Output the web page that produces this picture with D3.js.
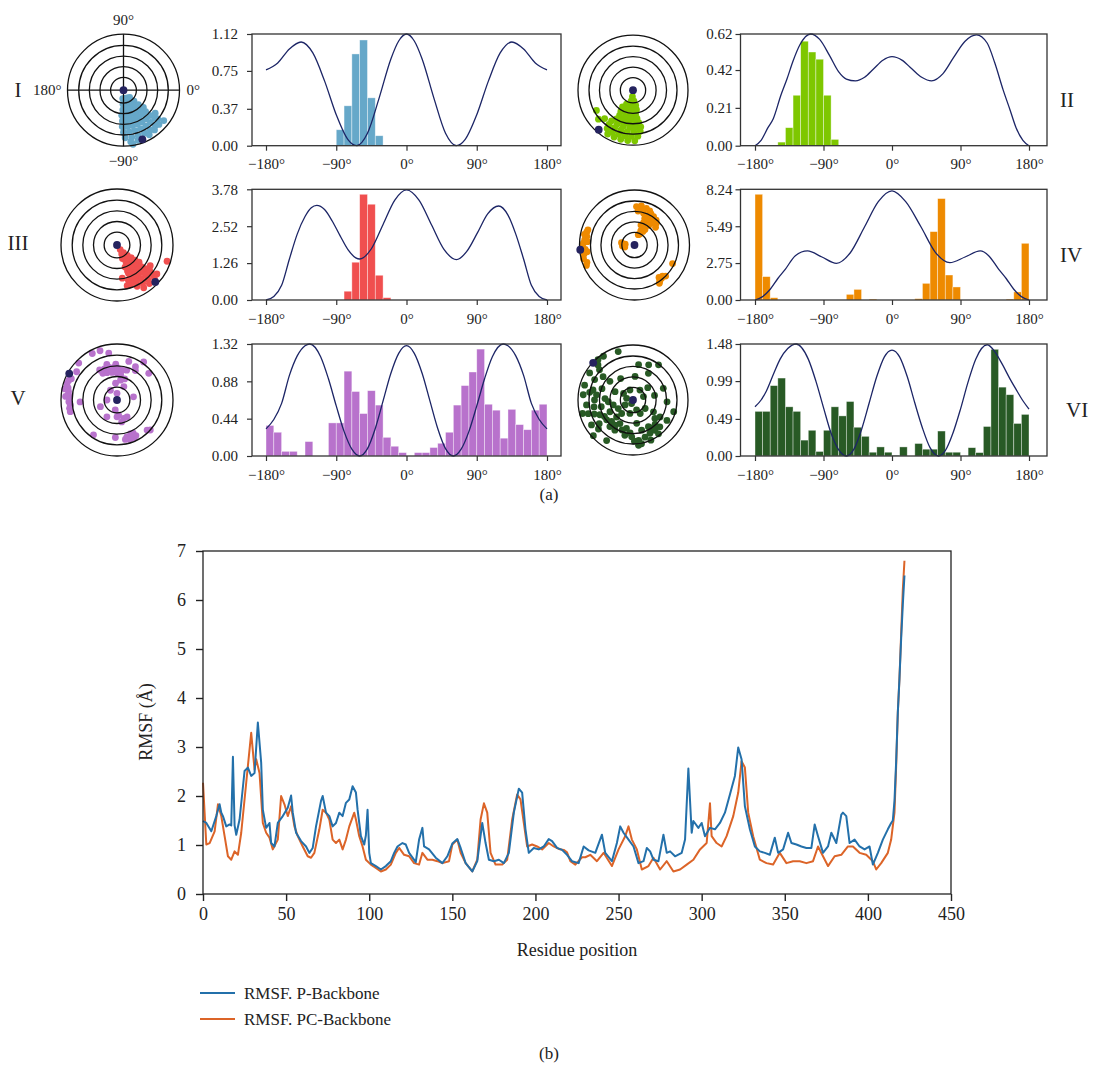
<!DOCTYPE html>
<html>
<head>
<meta charset="utf-8">
<script src="https://cdn.jsdelivr.net/npm/d3@7"></script>
<style>
  body { margin: 0; background: #fff; }
  text { font-family: "Liberation Serif", "DejaVu Serif", serif; fill: #222; }
</style>
</head>
<body>
<svg id="fig" width="1093" height="1068"></svg>
<script>
// ---------- data: panel (a) ----------
const panelNames = ["I", "II", "III", "IV", "V", "VI"];
const panelColors = ["#66a8c9", "#7ec700", "#f04f4f", "#ee8a00", "#b872cc", "#285a25"];
const xTickValues = [-180, -90, 0, 90, 180];
const xTickLabels = ["−180°", "−90°", "0°", "90°", "180°"];
const ringLevels = [0.23, 0.42, 0.61, 0.8, 1.0];

// y tick labels (last one is the axis maximum)
const yTicksI = [0, 0.37, 0.75, 1.12];
const yTicksII = [0, 0.21, 0.42, 0.62];
const yTicksIII = [0, 1.26, 2.52, 3.78];
const yTicksIV = [0, 2.75, 5.49, 8.24];
const yTicksV = [0, 0.44, 0.88, 1.32];
const yTicksVI = [0, 0.49, 0.99, 1.48];

// histogram: first bin start (deg), bin width 10 deg, bar heights
const binWidth = 10;
const histStart = [-90, -150, -80, -180, -180, -180];
const histI = [0.16, 0.40, 0.92, 1.06, 0.48, 0.10];
const histII = [0.02, 0.10, 0.28, 0.58, 0.52, 0.48, 0.28, 0.035];
const histIII = [0.30, 1.29, 3.61, 3.27, 0.845, 0.08];
const histIV = [7.87, 1.74, 0.17, 0, 0, 0, 0, 0, 0, 0, 0, 0, 0.42, 0.79, 0, 0.07, 0, 0,
                0, 0, 0, 0.1, 1.24, 5.09, 7.55, 1.86, 0.97, 0, 0, 0, 0, 0, 0, 0.07, 0.6, 4.22];
const histV = [0.36, 0.28, 0.055, 0.055, 0, 0.17, 0, 0, 0.39, 0.39, 1.00, 0.76, 0.50, 0.77, 0.60, 0.22, 0.115, 0.04,
               0, 0.04, 0.04, 0.10, 0.15, 0.28, 0.60, 0.83, 0.99, 1.26, 0.61, 0.54, 0.21, 0.55, 0.37, 0.31, 0.54, 0.61];
const histVI = [0.59, 0.59, 0.93, 1.03, 0.65, 0.59, 0.21, 0.34, 0.06, 0.34, 0.65, 0.53, 0.72, 0.38, 0.26, 0.05, 0.12, 0.05,
                0.01, 0.12, 0, 0.165, 0.09, 0.09, 0.33, 0.05, 0.05, 0, 0.11, 0.045, 0.39, 1.41, 0.91, 0.81, 0.43, 0.55];

// profile curves [angle deg, value]
const curveI = [[-180,0.76],[-165,0.83],[-150,0.97],[-135,1.04],[-120,0.93],[-105,0.65],[-90,0.31],[-75,0.06],[-64,0],
  [-50,0.125],[-35,0.48],[-20,0.87],[-10,1.05],[0,1.12],[10,1.05],[20,0.87],[35,0.48],[50,0.125],[64,0],[75,0.06],
  [90,0.31],[105,0.65],[120,0.93],[135,1.04],[150,0.97],[165,0.83],[180,0.76]];
const curveII = [[-180,0],[-172,0.03],[-163,0.1],[-156,0.15],[-146,0.28],[-138,0.37],[-130,0.47],[-121,0.56],[-107,0.62],
  [-95,0.59],[-82,0.5],[-70,0.41],[-60,0.37],[-48,0.36],[-36,0.38],[-24,0.427],[-12,0.474],[0,0.494],[13,0.475],
  [26,0.427],[39,0.38],[52,0.36],[67,0.40],[81,0.49],[96,0.58],[111,0.615],[125,0.57],[135,0.46],[146,0.31],
  [155,0.2],[163,0.1],[172,0.03],[180,0]];
const curveIII = [[-180,0],[-170,0.12],[-160,0.5],[-150,1.4],[-140,2.25],[-130,2.85],[-122,3.15],[-115,3.23],[-105,3.09],
  [-95,2.69],[-85,2.19],[-75,1.72],[-65,1.44],[-60,1.40],[-45,1.75],[-30,2.58],[-15,3.41],[0,3.76],[16,3.41],[32,2.57],
  [48,1.73],[64,1.38],[77,1.65],[91,2.3],[104,2.94],[118,3.21],[130,2.9],[140,2.25],[150,1.4],[160,0.5],[170,0.12],[180,0]];
const curveIV = [[-180,0],[-170,0.25],[-160,0.8],[-150,1.6],[-140,2.3],[-127,3.3],[-111,3.65],[-92,3.2],[-73,2.73],
  [-55,3.5],[-36,5.45],[-18,7.32],[0,8.12],[18,7.32],[38,5.45],[57,3.55],[76,2.78],[96,3.2],[116,3.65],[127,3.3],
  [140,2.3],[150,1.6],[160,0.8],[170,0.25],[180,0]];
const curveV = [[-180,0.32],[-170,0.43],[-160,0.62],[-150,0.95],[-140,1.18],[-130,1.3],[-124,1.32],[-110,1.17],[-100,0.91],
  [-90,0.59],[-80,0.29],[-70,0.08],[-60,0],[-50,0.087],[-40,0.325],[-30,0.65],[-20,0.975],[-10,1.21],[0,1.30],[10,1.21],
  [20,0.975],[30,0.65],[40,0.325],[50,0.087],[60,0],[70,0.08],[80,0.29],[90,0.59],[100,0.91],[110,1.17],[124,1.32],
  [130,1.3],[140,1.18],[150,0.95],[160,0.62],[170,0.43],[180,0.32]];
const curveVI = [[-180,0.65],[-172,0.74],[-165,0.86],[-155,1.1],[-147,1.28],[-137,1.42],[-126,1.48],[-110,1.28],[-100,0.99],
  [-90,0.64],[-80,0.30],[-70,0.08],[-60,0],[-50,0.09],[-40,0.35],[-30,0.70],[-20,1.05],[-10,1.31],[0,1.40],[10,1.31],
  [20,1.05],[30,0.70],[40,0.37],[50,0.11],[61,0],[70,0.07],[80,0.30],[90,0.62],[100,0.98],[110,1.28],[125,1.47],
  [135,1.38],[145,1.21],[155,1.02],[163,0.88],[172,0.73],[180,0.62]];

// polar scatter [angle deg, radius (outer ring = 1)]
const polarI = [[-95,0.15],[-80,0.15],[-65,0.15],[-50,0.17],[-92,0.25],[-80,0.25],[-68,0.25],[-56,0.25],[-46,0.27],
  [-92,0.35],[-82,0.35],[-72,0.35],[-62,0.35],[-52,0.35],[-44,0.37],[-94,0.45],[-85,0.45],[-76,0.45],[-67,0.45],
  [-58,0.45],[-49,0.45],[-41,0.47],[-92,0.55],[-84,0.55],[-76,0.55],[-68,0.55],[-60,0.55],[-52,0.55],[-44,0.55],
  [-92,0.65],[-84,0.65],[-76,0.65],[-68,0.65],[-60,0.65],[-52,0.65],[-44,0.65],[-90,0.75],[-82,0.75],[-74,0.75],
  [-66,0.75],[-58,0.75],[-50,0.75],[-42,0.75],[-88,0.85],[-80,0.85],[-72,0.85],[-64,0.85],[-56,0.85],[-48,0.85],
  [-40,0.8],[-82,0.93],[-74,0.93],[-60,0.92],[-52,0.9],[-44,0.88],[-37,0.9],[-80,0.98],[-36,0.7]];
const polarII = [[-95,0.12],[-100,0.2],[-85,0.2],[-115,0.28],[-95,0.28],[-80,0.28],[-122,0.36],[-108,0.36],[-94,0.36],
  [-80,0.36],[-120,0.44],[-108,0.44],[-96,0.44],[-84,0.44],[-118,0.52],[-106,0.52],[-94,0.52],[-82,0.52],[-120,0.6],
  [-110,0.6],[-100,0.6],[-90,0.6],[-80,0.6],[-125,0.68],[-115,0.68],[-105,0.68],[-95,0.68],[-85,0.68],[-78,0.68],
  [-125,0.76],[-116,0.76],[-107,0.76],[-98,0.76],[-89,0.76],[-80,0.76],[-124,0.84],[-116,0.84],[-108,0.84],
  [-100,0.84],[-92,0.84],[-84,0.84],[-120,0.92],[-112,0.92],[-104,0.92],[-96,0.92],[-88,0.92],[-151,0.76],
  [-135,0.73],[-140,0.82]];
const polarIII = [[-55,0.1],[-50,0.18],[-62,0.18],[-45,0.26],[-57,0.26],[-68,0.26],[-42,0.34],[-52,0.34],[-62,0.34],
  [-40,0.42],[-50,0.42],[-60,0.42],[-70,0.42],[-38,0.5],[-48,0.5],[-58,0.5],[-68,0.5],[-42,0.58],[-50,0.58],[-58,0.58],
  [-66,0.58],[-40,0.66],[-48,0.66],[-56,0.66],[-64,0.66],[-72,0.66],[-38,0.74],[-46,0.74],[-54,0.74],[-62,0.74],
  [-70,0.74],[-40,0.82],[-48,0.82],[-56,0.82],[-64,0.82],[-42,0.9],[-50,0.9],[-58,0.9],[-18,0.94],[-32,0.7],
  [-81,0.6],[-76,0.75],[-68,0.55],[-36,0.88]];
const polarIV = [[87,0.70],[80,0.72],[72,0.70],[66,0.68],[62,0.64],[56,0.62],[49,0.6],[45,0.56],[50,0.52],[58,0.54],
  [66,0.58],[74,0.6],[69,0.52],[62,0.5],[54,0.44],[60,0.42],[68,0.44],[72,0.38],[64,0.36],[56,0.34],[58,0.29],
  [66,0.28],[64,0.22],[70,0.2],[78,0.66],[84,0.62],[40,0.5],
  [174,0.91],[170,0.88],[165,0.9],[162,0.89],[178,0.93],[-178,0.95],[-175,0.9],[-170,0.93],[-165,0.96],[-160,0.92],
  [-157,0.95],[176,0.86],[168,0.93],[-172,0.87],
  [180,0.2],[175,0.17],[-175,0.22],[170,0.24],[-168,0.18],
  [-51,0.78],[-55,0.8],[-48,0.76],[-53,0.74],[-57,0.83],[-45,0.8],[-26,0.77]];
const polarV = [[158,0.93],[162,0.94],[166,0.9],[170,0.88],[174,0.87],[178,0.85],[-178,0.86],[-174,0.84],[-170,0.86],
  [168,0.95],[176,0.92],[-166,0.86],[155,0.9],
  [118,0.94],[109,0.93],[100,0.85],[73,0.72],[61,0.68],[55,0.83],[40,0.74],[136,0.95],[145,0.88],[-177,0.66],
  [-124,0.75],[-92.5,0.67],[-45,0.76],[-42,0.8],[11,0.3],[-158,0.32],[-121,0.35],[180,0.18],[58,0.62],
  [120,0.62],[112,0.6],[104,0.6],[96,0.58],[88,0.56],[80,0.54],[72,0.56],[110,0.52],[100,0.5],[90,0.48],[82,0.46],
  [118,0.54],[106,0.66],[92,0.64],
  [80,0.36],[63,0.27],[90,0.12],[-100,0.18],[-84,0.27],[-70,0.35],[-59,0.35],[124,0.21],[-90,0.3],[-78,0.4],
  [70,0.4],[95,0.3],
  [-75,0.68],[-70,0.7],[-66,0.75],[-62,0.72],[-72,0.74],[-68,0.65],[-78,0.72],[-64,0.66]];
const polarVI = [[131,0.97],[124,0.96],[107,0.92],[163,0.92],[174,0.91],[-174,0.85],[-163,0.85],[-138,0.97],[166,0.75],
  [180,0.7],[172,0.67],[-168,0.59],[-156,0.66],[-143,0.6],[-131,0.64],[177,0.51],[-176,0.45],[-166,0.37],[-153,0.47],
  [-134,0.43],[-119,0.49],[-121,0.64],[-103,0.66],[-92,0.67],[-82,0.74],[-79,0.81],[-72,0.71],[-63,0.68],[-54,0.68],
  [-53,0.77],[-45,0.69],[-60,0.56],[-74,0.57],[-81,0.43],[-103,0.53],[-130,0.32],[-150,0.31],[165,0.12],[145,0.21],
  [107,0.19],[55,0.22],[18,0.2],[-35,0.27],[-62,0.28],[-103,0.25],[-70,0.19],[81,0.65],[66,0.7],[54,0.79],[21,0.59],
  [-3,0.62],[-16,0.77],[-31,0.72],[-32,0.58],[-30,0.43],[60,0.56],[85,0.43],[141,0.54],[142,0.69],[152,0.79],
  [138,0.82],[155,0.36],[-112,0.07],[-148,0.17],[148,0.93],[-123,0.88],[-83,0.83],[-149,0.88],
  [-160,0.75],[-145,0.75],[-135,0.55],[135,0.9],[-165,0.95],[-150,0.6],[170,0.8],[-140,0.82],[-125,0.56],
  [-110,0.58],[-95,0.6],[-88,0.75],[-66,0.8],[-58,0.6],[-48,0.6],[-40,0.52],[12,0.4],[40,0.35],[120,0.45],
  [-170,0.72],[160,0.6]];
// start (centre) and end points of each trajectory
const startPoint = [0, 0];
const endPoints = [[-69, 0.94], [-131, 0.95], [-44, 0.95], [-175, 0.99], [151, 0.975], [137, 0.99]];

// ---------- data: panel (b) ----------
const pResidue = [0,2,5,8,10,11,12,14,16,17,18,19,20,22,25,27,29,31,33,35,36,38,40,41,43,45,48,51,53,54,56,59,62,64,66,
  68,71,72,74,76,78,80,82,84,86,88,90,92,93,95,97,98,99,100,101,104,107,110,113,115,117,120,122,124,128,130,132,133,
  136,140,144,147,150,153,155,158,162,165,168,170,172,175,178,181,184,187,190,192,194,196,199,202,205,208,210,213,
  216,219,222,226,229,232,236,240,242,246,249,251,253,256,259,262,265,267,269,271,274,277,279,281,284,288,290,292,
  294,295,298,300,302,305,308,311,314,317,320,322,324,326,329,332,335,338,341,344,346,349,352,354,357,360,363,366,
  368,370,373,376,378,381,384,385,387,389,392,395,398,401,403,406,409,412,414,415,416,417,418,419,420,421,422];
const pRmsf = [1.49,1.45,1.28,1.59,1.83,1.66,1.59,1.38,1.42,1.40,2.80,1.40,1.21,1.52,2.51,2.58,2.41,2.47,3.50,2.68,1.72,
  1.35,1.45,1.04,0.97,1.45,1.59,1.76,2.01,1.66,1.25,1.08,0.97,0.84,0.94,1.38,1.90,2.0,1.66,1.59,1.38,1.45,1.66,1.59,
  1.86,1.93,2.20,2.07,1.72,1.18,1.01,1.2,1.72,0.84,0.63,0.57,0.50,0.57,0.67,0.84,0.97,1.04,1.01,0.84,0.65,1.11,1.35,
  0.97,0.91,0.74,0.63,0.77,1.03,1.12,0.94,0.63,0.46,0.67,1.45,1.04,0.70,0.67,0.70,0.63,0.84,1.66,2.15,2.07,1.32,0.84,
  0.94,0.91,0.97,1.12,1.08,0.94,0.90,0.80,0.67,0.63,0.97,0.89,0.84,1.21,0.84,0.67,1.04,1.38,1.25,1.11,0.97,0.63,0.67,
  0.94,0.87,0.70,0.67,1.21,0.84,0.87,0.77,0.84,1.11,2.56,1.25,1.49,1.35,1.45,1.18,1.35,1.32,1.45,1.66,2.03,2.41,2.99,
  2.75,1.79,1.32,0.97,0.87,0.84,0.80,1.15,0.84,0.91,1.25,1.04,1.01,0.97,0.94,0.94,1.42,1.18,0.84,0.97,1.25,1.04,1.62,
  1.66,1.59,1.04,1.11,0.97,0.91,0.97,0.60,0.84,1.11,1.32,1.45,1.5,1.9,2.7,3.7,4.4,5.2,5.9,6.5,6.8];
const pcResidue = [0,2,4,7,9,11,13,15,17,19,21,23,26,29,31,32,34,36,38,40,42,45,47,49,51,53,55,57,60,63,65,67,70,72,74,
  76,78,80,82,84,86,88,91,92,94,96,98,101,104,107,110,113,116,118,121,124,127,130,132,135,138,141,144,148,150,153,
  155,158,162,165,167,169,171,173,176,180,183,186,189,191,193,195,198,201,204,208,211,214,217,219,221,224,228,230,
  233,237,241,246,250,254,256,258,261,264,268,271,275,279,283,287,291,295,299,303,305,306,309,312,315,319,322,324,
  326,328,331,335,339,343,347,351,355,359,363,367,370,373,376,380,384,388,391,395,399,403,405,408,412,414,416,417,
  418,419,420,421,422];
const pcRmsf = [2.27,1.01,1.04,1.28,1.83,1.59,1.18,0.77,0.70,0.87,0.80,1.25,2.27,3.29,2.54,2.75,2.47,1.45,1.25,1.15,0.91,
  1.11,2.0,1.83,1.59,1.79,1.38,1.18,0.97,0.77,0.74,0.84,1.32,1.72,1.66,1.52,1.11,1.04,1.11,0.91,1.11,1.38,1.66,1.52,
  1.18,0.97,0.70,0.60,0.53,0.46,0.50,0.60,0.84,0.94,0.80,0.77,0.63,0.60,0.84,0.70,0.70,0.67,0.63,0.67,1.01,1.11,0.84,
  0.63,0.46,0.70,1.52,1.85,1.66,0.84,0.60,0.60,0.70,1.52,2.03,1.93,1.45,0.97,1.01,0.97,0.91,1.04,0.97,0.92,0.90,0.85,
  0.67,0.60,0.75,0.75,0.80,0.67,0.84,0.57,0.91,1.18,1.38,1.11,0.91,0.50,0.57,0.74,0.50,0.67,0.46,0.50,0.60,0.70,0.91,
  1.04,1.85,1.18,1.04,0.97,1.18,1.59,2.07,2.71,2.58,1.66,1.18,0.70,0.63,0.60,0.84,0.63,0.67,0.67,0.63,0.67,0.97,0.77,
  0.57,0.77,0.80,0.97,0.97,0.84,0.80,0.67,0.50,0.63,0.84,1.11,1.66,2.6,3.7,4.4,5.3,6.2,6.8];
const seriesNames = ["RMSF. P-Backbone", "RMSF. PC-Backbone"];
const seriesColors = ["#2370aa", "#dc6428"];
const rmsfYTicks = [0, 1, 2, 3, 4, 5, 6, 7];
const rmsfXTicks = [0, 50, 100, 150, 200, 250, 300, 350, 400, 450];

// ---------- drawing ----------
const svg = d3.select("#fig");
svg.append("rect").attr("width", 1093).attr("height", 1068).attr("fill", "#fff");

const yTicksAll = [yTicksI, yTicksII, yTicksIII, yTicksIV, yTicksV, yTicksVI];
const histAll = [histI, histII, histIII, histIV, histV, histVI];
const curveAll = [curveI, curveII, curveIII, curveIV, curveV, curveVI];
const polarAll = [polarI, polarII, polarIII, polarIV, polarV, polarVI];

// layout of the six rows/columns
const rowsY = [[34, 145.7], [189.3, 300], [344, 456]];
const cols = [
  { box: [252, 561], xr: [266, 547], pad: 9, polarX: [123.5, 117, 117], R: 56, labelX: 18, anchor: "middle" },
  { box: [740.5, 1047], xr: [755, 1029], pad: 3, polarX: [633, 634.5, 633], R: 55, labelX: 1060, anchor: "start" }
];
const polarY = [90.2, 245, 400];
const labelY = [[90, 100], [243, 255], [398, 410]];

panelNames.forEach((name, i) => {
  const row = Math.floor(i / 2), col = i % 2;
  const c = cols[col];
  const [y0, y1] = rowsY[row];
  const color = panelColors[i];
  const ticks = yTicksAll[i];
  const g = svg.append("g");

  const x = d3.scaleLinear().domain([-180, 180]).range(c.xr);
  const y = d3.scaleLinear().domain([0, ticks[ticks.length - 1]]).range([y1, y0]);

  // histogram bars
  g.selectAll("rect.bar")
    .data(histAll[i].map((v, k) => ({ x0: histStart[i] + k * binWidth, v })).filter(d => d.v > 0))
    .enter().append("rect")
    .attr("x", d => x(d.x0))
    .attr("width", x(binWidth) - x(0))
    .attr("y", d => y(d.v))
    .attr("height", d => y(0) - y(d.v))
    .attr("fill", color)
    .attr("stroke", "#fff").attr("stroke-opacity", 0.55).attr("stroke-width", 0.7);

  // profile curve
  g.append("path")
    .datum(curveAll[i])
    .attr("d", d3.line().x(d => x(d[0])).y(d => y(d[1])).curve(d3.curveMonotoneX))
    .attr("fill", "none").attr("stroke", "#1c2566").attr("stroke-width", 1.3);

  // frame
  g.append("rect").attr("x", c.box[0]).attr("y", y0)
    .attr("width", c.box[1] - c.box[0]).attr("height", y1 - y0)
    .attr("fill", "none").attr("stroke", "#333").attr("stroke-width", 1.3);

  const ya = g.append("g").attr("transform", `translate(${c.box[0]},0)`)
    .call(d3.axisLeft(y).tickValues(ticks).tickSize(5).tickPadding(c.pad).tickFormat(d3.format(".2f")));
  const xa = g.append("g").attr("transform", `translate(0,${y1})`)
    .call(d3.axisBottom(x).tickValues(xTickValues).tickSize(5).tickPadding(8)
      .tickFormat((d, k) => xTickLabels[k]));
  [ya, xa].forEach(a => {
    a.select(".domain").remove();
    a.selectAll("line").attr("stroke", "#333").attr("stroke-width", 1.2);
    a.selectAll("text").attr("fill", "#222").style("font-size", "15px")
      .style("font-family", '"Liberation Serif", "DejaVu Serif", serif');
  });

  // polar scatter
  const cx = c.polarX[row], cy = polarY[row];
  const r = d3.scaleLinear().domain([0, 1]).range([0, c.R]);
  const px = d => cx + r(d[1]) * Math.cos(d[0] * Math.PI / 180);
  const py = d => cy - r(d[1]) * Math.sin(d[0] * Math.PI / 180);

  g.selectAll("circle.pt").data(polarAll[i]).enter().append("circle")
    .attr("cx", px).attr("cy", py).attr("r", 3.4).attr("fill", color);

  g.selectAll("circle.ring").data(ringLevels).enter().append("circle")
    .attr("cx", cx).attr("cy", cy).attr("r", d => r(d))
    .attr("fill", "none").attr("stroke", "#111").attr("stroke-width", 1.3);

  if (i === 0) {
    g.append("line").attr("x1", cx - r(1)).attr("x2", cx + r(1)).attr("y1", cy).attr("y2", cy)
      .attr("stroke", "#111").attr("stroke-width", 1.3);
    g.append("line").attr("x1", cx).attr("x2", cx).attr("y1", cy - r(1)).attr("y2", cy + r(1))
      .attr("stroke", "#111").attr("stroke-width", 1.3);
    const lab = [["90°", cx, cy - r(1) - 9, "middle"], ["0°", cx + r(1) + 7, cy + 5, "start"],
                 ["180°", cx - r(1) - 6, cy + 5, "end"], ["−90°", cx, cy + r(1) + 20, "middle"]];
    lab.forEach(l => g.append("text").attr("x", l[1]).attr("y", l[2]).attr("text-anchor", l[3])
      .style("font-size", "15px").text(l[0]));
  }

  g.selectAll("circle.end").data([startPoint, endPoints[i]]).enter().append("circle")
    .attr("cx", px).attr("cy", py).attr("r", 3.9).attr("fill", "#25235f");

  // panel numeral
  g.append("text").attr("x", col === 0 ? c.labelX : c.labelX + (i === 5 ? 6 : 0))
    .attr("y", labelY[row][col]).attr("dy", "0.35em")
    .attr("text-anchor", c.anchor).style("font-size", "21px").text(name);
});

svg.append("text").attr("x", 549).attr("y", 500).attr("text-anchor", "middle")
  .style("font-size", "17px").text("(a)");

// ---------- panel (b) ----------
const xR = d3.scaleLinear().domain([0, 450]).range([203, 951]);
const yR = d3.scaleLinear().domain([0, 7]).range([894, 551]);
const gb = svg.append("g");

const line = d3.line().x(d => xR(d[0])).y(d => yR(d[1])).curve(d3.curveLinear);
gb.append("path").datum(d3.zip(pcResidue, pcRmsf)).attr("d", line)
  .attr("fill", "none").attr("stroke", seriesColors[1]).attr("stroke-width", 2).attr("stroke-linejoin", "round");
gb.append("path").datum(d3.zip(pResidue, pRmsf)).attr("d", line)
  .attr("fill", "none").attr("stroke", seriesColors[0]).attr("stroke-width", 2).attr("stroke-linejoin", "round");

gb.append("rect").attr("x", xR(0)).attr("y", yR(7)).attr("width", xR(450) - xR(0)).attr("height", yR(0) - yR(7))
  .attr("fill", "none").attr("stroke", "#222").attr("stroke-width", 1.3);

const ybA = gb.append("g").attr("transform", `translate(${xR(0)},0)`)
  .call(d3.axisLeft(yR).tickValues(rmsfYTicks).tickSize(7).tickPadding(10).tickFormat(d3.format("d")));
const xbA = gb.append("g").attr("transform", `translate(0,${yR(0)})`)
  .call(d3.axisBottom(xR).tickValues(rmsfXTicks).tickSize(7).tickPadding(6).tickFormat(d3.format("d")));
[ybA, xbA].forEach(a => {
  a.select(".domain").remove();
  a.selectAll("line").attr("stroke", "#222").attr("stroke-width", 1.4);
  a.selectAll("text").attr("fill", "#222").style("font-size", "18px")
    .style("font-family", '"Liberation Serif", "DejaVu Serif", serif');
});

gb.append("text").attr("x", 577).attr("y", 956).attr("text-anchor", "middle")
  .style("font-size", "18px").text("Residue position");
gb.append("text").attr("transform", "translate(152,722) rotate(-90)").attr("text-anchor", "middle")
  .style("font-size", "18px").text("RMSF (Å)");

// legend
seriesNames.forEach((n, k) => {
  const ly = 993 + k * 26;
  gb.append("line").attr("x1", 200).attr("x2", 235).attr("y1", ly).attr("y2", ly)
    .attr("stroke", seriesColors[k]).attr("stroke-width", 2);
  gb.append("text").attr("x", 244).attr("y", ly).attr("dy", "0.35em")
    .style("font-size", "17px").text(n);
});

svg.append("text").attr("x", 549).attr("y", 1059).attr("text-anchor", "middle")
  .style("font-size", "17px").text("(b)");
</script>
</body>
</html>
